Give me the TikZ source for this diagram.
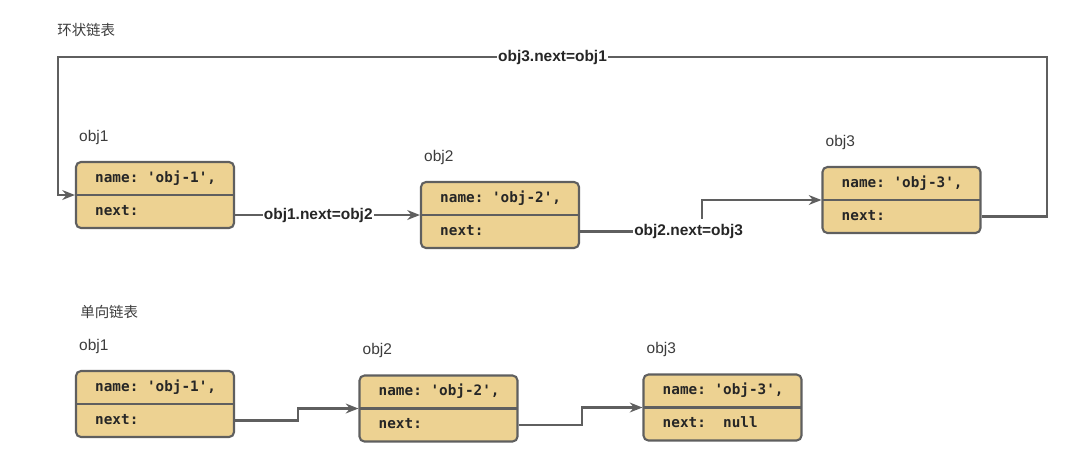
\documentclass[tikz,border=0pt]{standalone}
\usepackage{fontspec}
\setmainfont{Liberation Sans}
\setmonofont{DejaVu Sans Mono}
\newfontfamily\cjk{Noto Sans CJK SC}
\usetikzlibrary{positioning,arrows.meta,calc}
\usepackage{xcolor}
\definecolor{boxfill}{RGB}{237,210,146}
\definecolor{linegray}{RGB}{95,95,95}
\definecolor{textgray}{RGB}{38,38,38}

\begin{document}
\begin{tikzpicture}

	\tikzstyle{objbox}=[draw=linegray, fill=boxfill, line width=1.5pt, rounded corners=3.5pt, minimum width=3.95cm, minimum height=1.65cm, path picture={\draw[linegray, line width=1.5pt] (path picture bounding box.west) -- (path picture bounding box.east);}];
	\tikzstyle{rowtext}=[inner sep=0, anchor=west, text=textgray, font=\ttfamily\bfseries\fontsize{10.2}{12}\selectfont, text height=7.5pt, text depth=2pt];
	\tikzstyle{objtag}=[inner sep=0, text=textgray!90, font=\fontsize{11}{13}\selectfont];
	\tikzstyle{linktext}=[fill=white, inner xsep=1pt, inner ysep=4pt, text=textgray, font=\bfseries\fontsize{11}{13}\selectfont];
	\tikzstyle{headline}=[inner sep=0, anchor=west, text=textgray!90, font=\cjk\fontsize{10.3}{12}\selectfont];
	\tikzstyle{link}=[->, draw=linegray, line width=1.5pt];
    \begin{scope}[>={Stealth[length=9pt,width=7pt]}]

    	\useasboundingbox (0,0) rectangle (27,-11.85);

    	% ring list
    	\node (ring_title) at (1.425,-0.75) [headline]{环状链表};

    	\node (ring_obj1) at (3.875,-4.875) [objbox]{};
    	\node (ring_obj1_name) [right = 0.5cm of ring_obj1.west, yshift=0.4125cm, rowtext]{name: 'obj-1',};
    	\node (ring_obj1_next) [right = 0.5cm of ring_obj1.west, yshift=-0.4125cm, rowtext]{next:};
    	\node (ring_obj1_tag) [above right = 0.4cm and 0.1cm of ring_obj1.north west, objtag]{obj1};

    	\node (ring_obj2) at (12.5,-5.375) [objbox]{};
    	\node (ring_obj2_name) [right = 0.5cm of ring_obj2.west, yshift=0.4125cm, rowtext]{name: 'obj-2',};
    	\node (ring_obj2_next) [right = 0.5cm of ring_obj2.west, yshift=-0.4125cm, rowtext]{next:};
    	\node (ring_obj2_tag) [above right = 0.4cm and 0.1cm of ring_obj2.north west, objtag]{obj2};

    	\node (ring_obj3) at (22.5375,-5.0) [objbox]{};
    	\node (ring_obj3_name) [right = 0.5cm of ring_obj3.west, yshift=0.4125cm, rowtext]{name: 'obj-3',};
    	\node (ring_obj3_next) [right = 0.5cm of ring_obj3.west, yshift=-0.4125cm, rowtext]{next:};
    	\node (ring_obj3_tag) [above right = 0.4cm and 0.1cm of ring_obj3.north west, objtag]{obj3};

    	\coordinate (loop_ne) at (26.175,-1.425);
    	\coordinate (loop_nw) at (1.45,-1.425);

    	\draw[link] (ring_obj1.east |- ring_obj2.west) -- node[linktext, pos=0.45]{obj1.next=obj2} (ring_obj2.west);
    	\draw[link] (ring_obj2.east |- ring_obj2_next) -- node[linktext, pos=0.89]{obj2.next=obj3} ++(3.05,0) |- (ring_obj3.west);
    	\draw[link] (ring_obj3.east |- ring_obj3_next) -| (loop_ne) -- node[linktext]{obj3.next=obj1} (loop_nw) |- (ring_obj1.west);

    	% singly linked list
    	\node (list_title) at (2.0,-7.8) [headline]{单向链表};

    	\node (list_obj1) at (3.875,-10.1) [objbox]{};
    	\node (list_obj1_name) [right = 0.5cm of list_obj1.west, yshift=0.4125cm, rowtext]{name: 'obj-1',};
    	\node (list_obj1_next) [right = 0.5cm of list_obj1.west, yshift=-0.4125cm, rowtext]{next:};
    	\node (list_obj1_tag) [above right = 0.4cm and 0.1cm of list_obj1.north west, objtag]{obj1};

    	\node (list_obj2) at (10.9625,-10.2125) [objbox]{};
    	\node (list_obj2_name) [right = 0.5cm of list_obj2.west, yshift=0.4125cm, rowtext]{name: 'obj-2',};
    	\node (list_obj2_next) [right = 0.5cm of list_obj2.west, yshift=-0.4125cm, rowtext]{next:};
    	\node (list_obj2_tag) [above right = 0.4cm and 0.1cm of list_obj2.north west, objtag]{obj2};

    	\node (list_obj3) at (18.0625,-10.1875) [objbox]{};
    	\node (list_obj3_name) [right = 0.5cm of list_obj3.west, yshift=0.4125cm, rowtext]{name: 'obj-3',};
    	\node (list_obj3_next) [right = 0.5cm of list_obj3.west, yshift=-0.4125cm, rowtext]{next:~~null};
    	\node (list_obj3_tag) [above right = 0.4cm and 0.1cm of list_obj3.north west, objtag]{obj3};

    	\draw[link] (list_obj1.east |- list_obj1_next) -- ++(1.575,0) |- (list_obj2.west);
    	\draw[link] (list_obj2.east |- list_obj2_next) -- ++(1.575,0) |- (list_obj3.west);

    \end{scope}
    \end{tikzpicture}
\end{document}
